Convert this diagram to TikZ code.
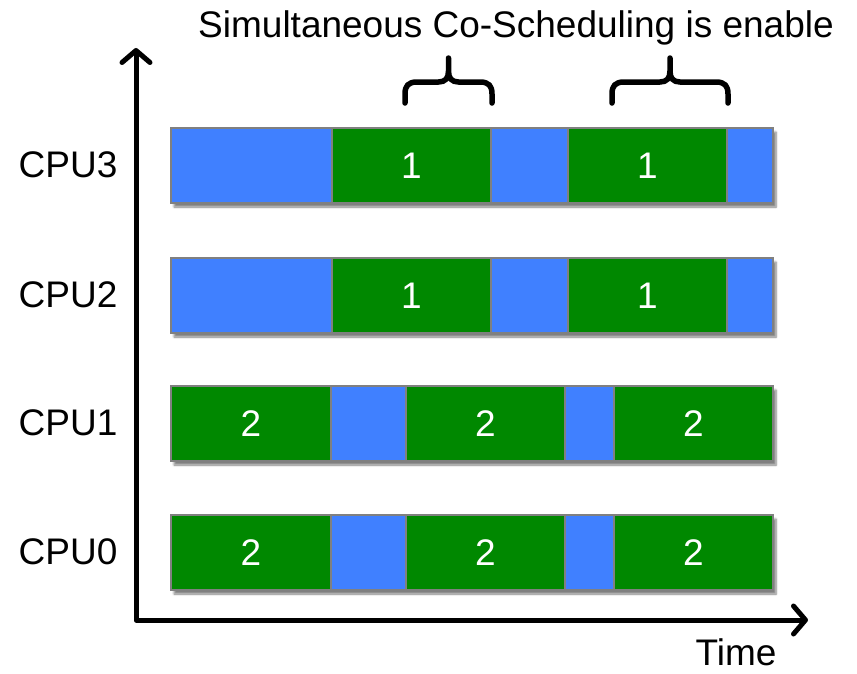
\documentclass[tikz,border=0pt]{standalone}
\usepackage{fontspec}
\setmainfont{Liberation Sans}
\usetikzlibrary{arrows.meta,shadows.blur}
\definecolor{idleblue}{RGB}{64,128,255}
\definecolor{jobgreen}{RGB}{0,136,0}
\definecolor{edgegray}{RGB}{128,128,128}

\begin{document}
\begin{tikzpicture}[x=1pt,y=-1pt,
  seg/.style={rectangle, draw=edgegray, line width=2.5pt, inner sep=0pt, outer sep=0pt,
    anchor=north west, minimum height=75pt},
  idle/.style={seg, fill=idleblue},
  job/.style={seg, fill=jobgreen, text=white, font=\fontsize{37}{40}\selectfont},
  barbg/.style={rectangle, inner sep=0pt, outer sep=0pt, anchor=north west,
    minimum height=75pt, minimum width=602pt, fill=white,
    blur shadow={shadow xshift=3pt, shadow yshift=-4pt, shadow blur steps=6, shadow opacity=50}},
  lab/.style={font=\fontsize{37}{44}\selectfont, anchor=base, inner sep=0pt},
  barb/.tip={Straight Barb[length=12pt, width=28pt, line cap=round, line join=round]},
  axis/.style={line width=5pt, line cap=round, line join=round, barb-barb},
  brace/.style={line width=5.5pt, line cap=round, line join=round}]

\useasboundingbox (0,0) rectangle (857,673);

% CPU3 and CPU2: job 1 co-scheduled on both
\foreach \row/\top in {3/128, 2/258} {
  \node[barbg] (bar\row) at (171,\top) {};
  \node[idle, minimum width=161pt] (c\row a) at (171,\top) {};
  \node[job,  minimum width=159pt] (c\row b) at (332,\top) {1};
  \node[idle, minimum width=77pt]  (c\row c) at (491,\top) {};
  \node[job,  minimum width=159pt] (c\row d) at (568,\top) {1};
  \node[idle, minimum width=46pt]  (c\row e) at (727,\top) {};
}

% CPU1 and CPU0: job 2
\foreach \row/\top in {1/386, 0/515} {
  \node[barbg] (bar\row) at (171,\top) {};
  \node[job,  minimum width=160pt] (c\row a) at (171,\top) {2};
  \node[idle, minimum width=75pt]  (c\row b) at (331,\top) {};
  \node[job,  minimum width=159pt] (c\row c) at (406,\top) {2};
  \node[idle, minimum width=49pt]  (c\row d) at (565,\top) {};
  \node[job,  minimum width=159pt] (c\row e) at (614,\top) {2};
}

% row labels
\node[lab] (l3) at (68,177) {CPU3};
\node[lab] (l2) at (68,307) {CPU2};
\node[lab] (l1) at (68,435) {CPU1};
\node[lab] (l0) at (68,564) {CPU0};

% axes
\coordinate (origin) at (136,620);
\coordinate (ytip) at (136,48);
\coordinate (xtip) at (808,620);
\draw[axis] (ytip) -- (origin) -- (xtip);
\node[lab] (time) at (736,665) {Time};

% braces over the co-scheduled intervals
\foreach \l/\r in {405/492, 612/728} {
  \pgfmathsetmacro\c{(\l+\r)/2}
  \draw[brace] (\l,103) -- (\l,94) .. controls (\l,86) and (\l+3,82) .. (\l+12,82)
    -- (\c-10,82) .. controls (\c-3,82) and (\c,78) .. (\c,71) -- (\c,58)
    -- (\c,71) .. controls (\c,78) and (\c+3,82) .. (\c+10,82)
    -- (\r-12,82) .. controls (\r-3,82) and (\r,86) .. (\r,94) -- (\r,103);
}

\node[lab] (title) at (516,37) {Simultaneous Co-Scheduling is enable};
\end{tikzpicture}
\end{document}
